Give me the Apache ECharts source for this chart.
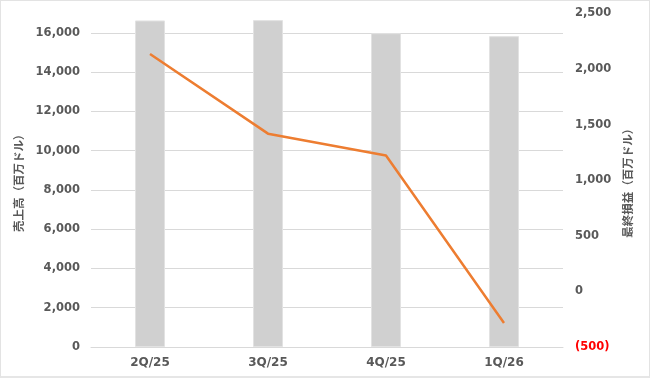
<!DOCTYPE html>
<html>
<head>
<meta charset="utf-8">
<script src="https://cdn.jsdelivr.net/npm/echarts@6/dist/echarts.min.js"></script>
<style>
html,body{margin:0;padding:0;background:#fff;}
#c{position:absolute;left:0;top:0;width:650px;height:378px;}
#f{position:absolute;left:0;top:0;width:648px;height:375px;border:1px solid #e3e3e3;border-bottom:2px solid #e6e6e6;pointer-events:none;}
</style>
</head>
<body>
<div id="c"></div>
<div id="f"></div>
<script>
const categories = ['2Q/25', '3Q/25', '4Q/25', '1Q/26'];
const revenue = [16636, 16653, 15990, 15837];
const netIncome = [2134, 1418, 1221, -284];
const leftAxisName = '売上高（百万ドル）';
const rightAxisName = '最終損益（百万ドル）';

const fmtL = v => v.toLocaleString('en-US');
const fmtR = v => v < 0 ? '(' + Math.abs(v).toLocaleString('en-US') + ')' : v.toLocaleString('en-US');
const txt = '#595959';
const font = 'DejaVu Sans';

const chart = echarts.init(document.getElementById('c'), null, {renderer: 'canvas'});
chart.setOption({
  animation: false,
  backgroundColor: '#ffffff',
  grid: {left: 91, right: 87, top: 13.3, bottom: 31},
  xAxis: {
    type: 'category',
    data: categories,
    axisLine: {lineStyle: {color: '#d9d9d9', width: 1}},
    axisTick: {show: false},
    axisLabel: {color: txt, fontFamily: font, fontWeight: 'bold', fontSize: 12, margin: 10}
  },
  yAxis: [
    {
      type: 'value', min: 0, max: 17000, interval: 2000,
      name: leftAxisName, nameLocation: 'middle', nameGap: 62, nameRotate: 90,
      nameTextStyle: {color: txt, fontFamily: 'Noto Sans CJK JP', fontWeight: 'bold', fontSize: 11.5},
      axisLine: {show: false}, axisTick: {show: false},
      axisLabel: {color: txt, fontFamily: font, fontWeight: 'bold', fontSize: 11.5, margin: 11,
        showMaxLabel: false, formatter: v => fmtL(v)},
      splitLine: {show: true, showMaxLine: false, lineStyle: {color: '#d9d9d9', width: 1}}
    },
    {
      type: 'value', min: -500, max: 2500, interval: 500, position: 'right',
      name: rightAxisName, nameLocation: 'middle', nameGap: 58, nameRotate: 90,
      nameTextStyle: {color: txt, fontFamily: 'Noto Sans CJK JP', fontWeight: 'bold', fontSize: 11.5},
      axisLine: {show: false}, axisTick: {show: false},
      axisLabel: {fontFamily: font, fontWeight: 'bold', fontSize: 11.5, margin: 12,
        formatter: v => fmtR(v),
        color: v => (Number(v) < 0 ? '#ff0000' : txt)},
      splitLine: {show: false}
    }
  ],
  series: [
    {
      type: 'bar', data: revenue, yAxisIndex: 0, barWidth: 30,
      itemStyle: {color: '#d0d0d0', borderColor: '#e2e2e2', borderWidth: 1}
    },
    {
      type: 'line', data: netIncome, yAxisIndex: 1, symbol: 'none',
      lineStyle: {color: '#ed7d31', width: 2.5}
    }
  ]
});
</script>
</body>
</html>
